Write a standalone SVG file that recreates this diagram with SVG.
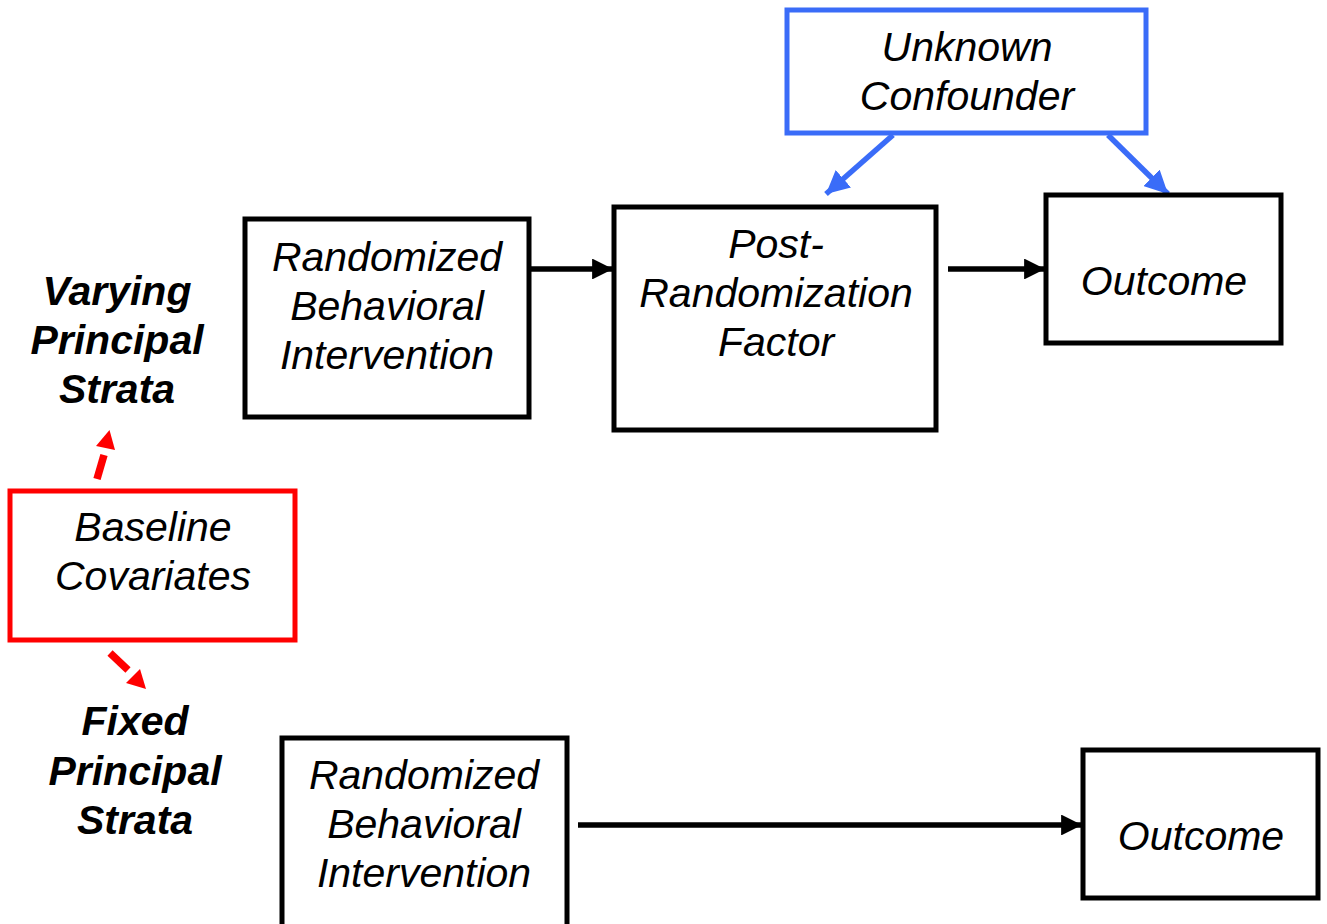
<svg xmlns="http://www.w3.org/2000/svg" width="1327" height="924" viewBox="0 0 1327 924">
<style>
.box{fill:#fff;stroke:#000;stroke-width:5}
.t{font-family:"Liberation Sans",Arial,sans-serif;font-size:41px;font-style:italic;text-anchor:middle;fill:#000}
.b{font-weight:bold}
.ck{stroke:#000;stroke-width:5.5;fill:none}
.cb{stroke:#3a6cf8;stroke-width:5.5;fill:none}
.cr{stroke:#f00;stroke-width:7.5;fill:none}
.hr{fill:#f00}
</style>
<defs>
<marker id="ak" viewBox="0 0 10 10" refX="10" refY="5" markerWidth="3.8" markerHeight="3.8" orient="auto" markerUnits="strokeWidth"><path d="M0,0L10,5L0,10z" fill="#000"/></marker>
<marker id="ab" viewBox="0 0 10 10" refX="10" refY="5" markerWidth="4.2" markerHeight="4.2" orient="auto" markerUnits="strokeWidth"><path d="M0,0L10,5L0,10z" fill="#3a6cf8"/></marker>
</defs>
<rect width="1327" height="924" fill="#fff"/>
<g id="connectors">
<line class="ck" x1="531" y1="269" x2="613" y2="269" marker-end="url(#ak)"/>
<line class="ck" x1="948" y1="269" x2="1045" y2="269" marker-end="url(#ak)"/>
<line class="ck" x1="578" y1="825" x2="1082" y2="825" marker-end="url(#ak)"/>
<line class="cb" x1="893" y1="135" x2="826" y2="194" marker-end="url(#ab)"/>
<line class="cb" x1="1108" y1="135" x2="1168" y2="194" marker-end="url(#ab)"/>
<line class="cr" x1="97" y1="479" x2="104" y2="455"/>
<polygon class="hr" points="109.5,430 96,446 115,450"/>
<line class="cr" x1="110" y1="653" x2="128" y2="670"/>
<polygon class="hr" points="146,689 126,683 140,669"/>
</g>
<g id="unknown-confounder">
<rect x="787" y="10" width="359" height="123" fill="#fff" stroke="#3a6cf8" stroke-width="5"/>
<text class="t" x="967" y="61">Unknown</text>
<text class="t" x="967" y="110">Confounder</text>
</g>
<g id="rbi-top">
<rect class="box" x="245" y="219" width="284" height="198"/>
<text class="t" x="387" y="271">Randomized</text>
<text class="t" x="387" y="320">Behavioral</text>
<text class="t" x="387" y="369">Intervention</text>
</g>
<g id="post-randomization-factor">
<rect class="box" x="614" y="207" width="322" height="223"/>
<text class="t" x="776" y="258">Post-</text>
<text class="t" x="776" y="307">Randomization</text>
<text class="t" x="776" y="356">Factor</text>
</g>
<g id="outcome-top">
<rect class="box" x="1046" y="195" width="235" height="148"/>
<text class="t" x="1164" y="295">Outcome</text>
</g>
<g id="varying-label">
<text class="t b" x="117" y="305">Varying</text>
<text class="t b" x="117" y="354">Principal</text>
<text class="t b" x="117" y="403">Strata</text>
</g>
<g id="baseline-covariates">
<rect x="10" y="491" width="285" height="149" fill="#fff" stroke="#f00" stroke-width="5"/>
<text class="t" x="153" y="541">Baseline</text>
<text class="t" x="153" y="590">Covariates</text>
</g>
<g id="fixed-label">
<text class="t b" x="135" y="735">Fixed</text>
<text class="t b" x="135" y="785">Principal</text>
<text class="t b" x="135" y="834">Strata</text>
</g>
<g id="rbi-bottom">
<rect class="box" x="282" y="738" width="285" height="195"/>
<text class="t" x="424" y="789">Randomized</text>
<text class="t" x="424" y="838">Behavioral</text>
<text class="t" x="424" y="887">Intervention</text>
</g>
<g id="outcome-bottom">
<rect class="box" x="1083" y="750" width="235" height="148"/>
<text class="t" x="1201" y="850">Outcome</text>
</g>
</svg>
